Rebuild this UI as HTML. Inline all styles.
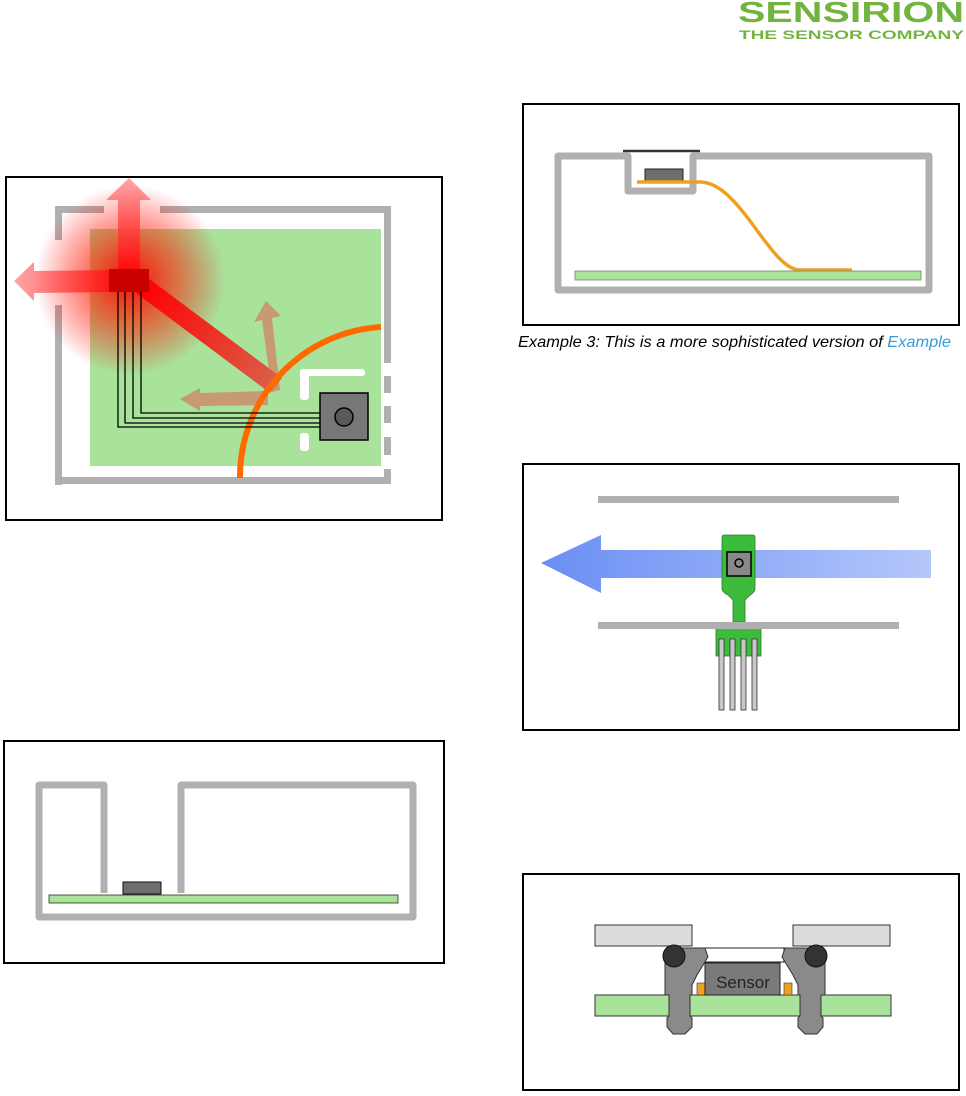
<!DOCTYPE html>
<html><head><meta charset="utf-8"><style>
html,body{margin:0;padding:0;background:#fff;width:966px;height:1096px;overflow:hidden}
svg{position:absolute;left:0;top:0}
</style></head><body>
<svg width="966" height="1096" viewBox="0 0 966 1096" xmlns="http://www.w3.org/2000/svg">
<defs>
<radialGradient id="glow" cx="130" cy="280" r="95" gradientUnits="userSpaceOnUse">
<stop offset="0" stop-color="#ff0000" stop-opacity="0.95"/>
<stop offset="0.45" stop-color="#ff1a00" stop-opacity="0.6"/>
<stop offset="1" stop-color="#ff0000" stop-opacity="0"/>
</radialGradient>
<linearGradient id="blue" x1="541" y1="0" x2="931" y2="0" gradientUnits="userSpaceOnUse">
<stop offset="0" stop-color="#6a8ef4"/><stop offset="1" stop-color="#b4c7fb"/>
</linearGradient>
<linearGradient id="upg" x1="0" y1="280" x2="0" y2="178" gradientUnits="userSpaceOnUse">
<stop offset="0" stop-color="#ff0000"/><stop offset="1" stop-color="#ff8080" stop-opacity="0.7"/>
</linearGradient>
<linearGradient id="leftg" x1="130" y1="0" x2="14" y2="0" gradientUnits="userSpaceOnUse">
<stop offset="0" stop-color="#ff0000"/><stop offset="1" stop-color="#ff8080" stop-opacity="0.7"/>
</linearGradient>
<linearGradient id="diag" x1="140" y1="290" x2="275" y2="385" gradientUnits="userSpaceOnUse">
<stop offset="0" stop-color="#ff0000"/><stop offset="1" stop-color="#d9604a"/>
</linearGradient>
</defs>

<text x="738" y="22" font-family="Liberation Sans, sans-serif" font-weight="bold" font-size="29" fill="#72b43f" textLength="226" lengthAdjust="spacingAndGlyphs">SENSIRION</text>
<text x="739" y="39" font-family="Liberation Sans, sans-serif" font-weight="bold" font-size="12" fill="#72b43f" textLength="225" lengthAdjust="spacingAndGlyphs">THE SENSOR COMPANY</text>

<rect x="6" y="177" width="436" height="343" fill="#fff" stroke="#000" stroke-width="2"/>
<g fill="#b0b0b0">
<rect x="55" y="206" width="49" height="7"/>
<rect x="160" y="206" width="231" height="7"/>
<rect x="55" y="206" width="7" height="34"/>
<rect x="55" y="305" width="7" height="180"/>
<rect x="55" y="477" width="336" height="7"/>
<rect x="384" y="206" width="7" height="157"/>
<rect x="384" y="376" width="7" height="17"/>
<rect x="384" y="406" width="7" height="17"/>
<rect x="384" y="437" width="7" height="18"/>
<rect x="384" y="469" width="7" height="15"/>
</g>
<rect x="90" y="229" width="291" height="237" fill="#a9e29b"/>
<circle cx="130" cy="280" r="95" fill="url(#glow)"/>
<polygon points="272,392 262,320 254,322 266,301 281,316 272,318 280,390" fill="#c89a74"/>
<polygon points="180,399 200,388 200,393 268,391 268,405 200,406 200,411" fill="#c89a74"/>
<polygon points="118,282 118,200 106,200 129,178 151,200 140,200 140,282" fill="url(#upg)"/>
<polygon points="120,270 34,271 34,262 14,281 34,301 34,293 120,292" fill="url(#leftg)"/>
<polygon points="136,293 148,278 282,378 270,393" fill="url(#diag)"/>
<rect x="109" y="269" width="40" height="23" fill="#c80000"/>
<path d="M381,327 A150,150 0 0 0 240,478" fill="none" stroke="#ff6a00" stroke-width="6"/>
<g fill="#fff">
<rect x="300" y="369" width="65" height="7" rx="3"/>
<rect x="300" y="369" width="9" height="31" rx="3"/>
<rect x="300" y="433" width="9" height="18" rx="3"/>
</g>
<g fill="none" stroke="#000" stroke-width="1.3">
<polyline points="118,292 118,427 320,427"/>
<polyline points="125,292 125,423 320,423"/>
<polyline points="133,292 133,418 320,418"/>
<polyline points="141,292 141,413 320,413"/>
</g>
<rect x="320" y="393" width="48" height="47" fill="#777" stroke="#000" stroke-width="1.5"/>
<circle cx="344" cy="417" r="9" fill="#5a5a5a" stroke="#000" stroke-width="1.5"/>

<rect x="523" y="104" width="436" height="221" fill="#fff" stroke="#000" stroke-width="2"/>
<path d="M558,156 L628,156 L628,191 L693,191 L693,156 L929,156 L929,290 L558,290 Z" fill="none" stroke="#b0b0b0" stroke-width="7" stroke-linejoin="round"/>
<line x1="623" y1="151" x2="700" y2="151" stroke="#333" stroke-width="2.5"/>
<rect x="645" y="169" width="38" height="12" fill="#6e6e6e" stroke="#222" stroke-width="1"/>
<path d="M637,182 L700,182 C740,182 770,270 800,270 L852,270" fill="none" stroke="#f0a020" stroke-width="3.5"/>
<rect x="575" y="271" width="346" height="9" fill="#a9e29b" stroke="#6a8a60" stroke-width="0.8"/>
<text x="518" y="347" font-family="Liberation Sans, sans-serif" font-style="italic" font-size="16" fill="#000" textLength="433" lengthAdjust="spacingAndGlyphs">Example 3: This is a more sophisticated version of <tspan fill="#3a9ad9">Example</tspan></text>

<rect x="523" y="464" width="436" height="266" fill="#fff" stroke="#000" stroke-width="2"/>
<rect x="598" y="496" width="301" height="7" fill="#b0b0b0"/>
<polygon points="541,563 601,535 601,550 931,550 931,578 601,578 601,593" fill="url(#blue)"/>
<path d="M724,535 L753,535 Q755,535 755,538 L755,589 Q755,592 750,595 L745,600 L745,622 L733,622 L733,600 L728,595 Q722,592 722,589 L722,538 Q722,535 724,535 Z" fill="#3dbb3d" stroke="#2a7a2a" stroke-width="0.8"/>
<rect x="716" y="628" width="45" height="28" fill="#3dbb3d" stroke="#2a7a2a" stroke-width="0.8"/>
<rect x="598" y="622" width="301" height="7" fill="#b0b0b0"/>
<g fill="#c8c8c8" stroke="#333" stroke-width="0.8">
<rect x="719" y="639" width="5" height="71"/>
<rect x="730" y="639" width="5" height="71"/>
<rect x="741" y="639" width="5" height="71"/>
<rect x="752" y="639" width="5" height="71"/>
</g>
<rect x="727" y="552" width="24" height="24" fill="#888" stroke="#000" stroke-width="1.5"/>
<circle cx="739" cy="563" r="4" fill="none" stroke="#000" stroke-width="1.5"/>

<rect x="4" y="741" width="440" height="222" fill="#fff" stroke="#000" stroke-width="2"/>
<path d="M104,893 L104,785 L39,785 L39,917 L413,917 L413,785 L181,785 L181,893" fill="none" stroke="#b0b0b0" stroke-width="7" stroke-linejoin="round"/>
<rect x="49" y="895" width="349" height="8" fill="#a9e29b" stroke="#1a3a10" stroke-width="0.8"/>
<rect x="123" y="882" width="38" height="12" fill="#6e6e6e" stroke="#111" stroke-width="1"/>

<rect x="523" y="874" width="436" height="216" fill="#fff" stroke="#000" stroke-width="2"/>
<rect x="595" y="925" width="97" height="21" fill="#dcdcdc" stroke="#333" stroke-width="1"/>
<rect x="793" y="925" width="97" height="21" fill="#dcdcdc" stroke="#333" stroke-width="1"/>
<rect x="595" y="995" width="296" height="21" fill="#a9e29b" stroke="#333" stroke-width="1"/>
<rect x="704" y="948" width="80" height="14" fill="#fff" stroke="#222" stroke-width="1"/>
<rect x="697" y="983" width="8" height="12" fill="#f0a020" stroke="#333" stroke-width="0.6"/>
<rect x="784" y="983" width="8" height="12" fill="#f0a020" stroke="#333" stroke-width="0.6"/>
<rect x="705" y="963" width="75" height="32" fill="#7a7a7a" stroke="#222" stroke-width="1"/>
<text x="743" y="988" text-anchor="middle" font-family="Liberation Sans, sans-serif" font-size="17" fill="#222">Sensor</text>
<polygon points="675,948 705,948 708,957 697,975 692,985 692,995 690,995 690,1016 692,1018 692,1027 685,1034 673,1034 667,1027 667,1018 669,1016 669,995 665,995 665,962" fill="#8a8a8a" stroke="#333" stroke-width="1"/>
<polygon points="815,948 785,948 782,957 793,975 798,985 798,995 800,995 800,1016 798,1018 798,1027 805,1034 817,1034 823,1027 823,1018 821,1016 821,995 825,995 825,962" fill="#8a8a8a" stroke="#333" stroke-width="1"/>
<circle cx="674" cy="956" r="11" fill="#333" stroke="#111" stroke-width="1"/>
<circle cx="816" cy="956" r="11" fill="#333" stroke="#111" stroke-width="1"/>
</svg>
</body></html>
